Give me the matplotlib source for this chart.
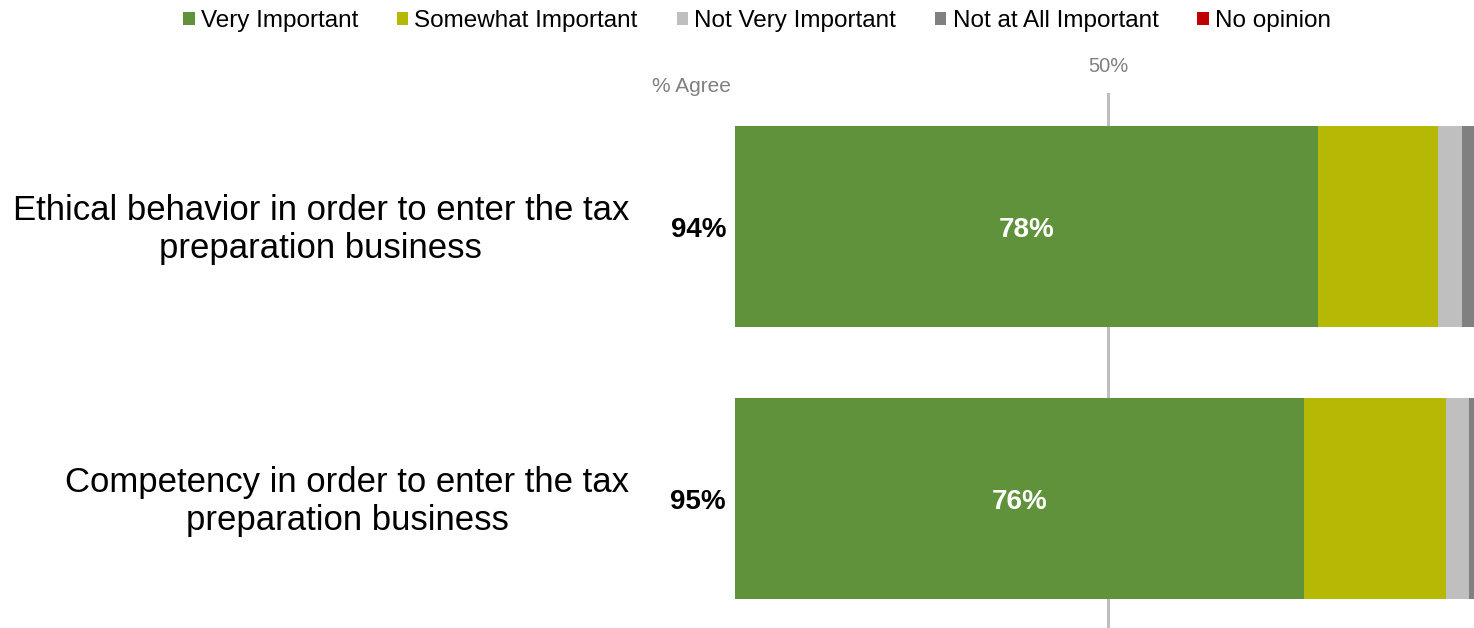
import matplotlib
matplotlib.use("Agg")
import matplotlib.pyplot as plt

plt.rcParams['font.family'] = ['Liberation Sans', 'DejaVu Sans']

# Survey items and response shares (%)
categories = [
    "Ethical behavior in order to enter the tax\npreparation business",
    "Competency in order to enter the tax\npreparation business",
]
series_names = ["Very Important", "Somewhat Important", "Not Very Important",
                "Not at All Important", "No opinion"]
very_important = [78.1, 76.3]
somewhat_important = [16.2, 19.0]
not_very_important = [3.1, 3.1]
not_at_all_important = [1.9, 1.0]
no_opinion = [0.7, 0.6]
colors = ["#60913B", "#B5B905", "#BFBFBF", "#808080", "#C00000"]

series = [very_important, somewhat_important, not_very_important,
          not_at_all_important, no_opinion]

W, H = 1474, 628
fig = plt.figure(figsize=(W / 100, H / 100), dpi=100)
ax = fig.add_axes([735 / W, 0, 746 / W, 535 / H])

ypos = list(range(len(categories)))
left = [0.0] * len(categories)
containers = []
for name, vals, col in zip(series_names, series, colors):
    bc = ax.barh(ypos, vals, left=left, height=0.74, color=col,
                 label=name, zorder=2)
    containers.append(bc)
    left = [l + v for l, v in zip(left, vals)]

# 50% reference line
ax.axvline(50, color="#BFBFBF", lw=2.2, zorder=1)
ax.annotate("50%", xy=(50, 1), xycoords=("data", "axes fraction"),
            xytext=(0, 27), textcoords="offset pixels",
            ha="center", va="center", fontsize=14.5, color="#808080")
ax.annotate("% Agree", xy=(0, 1), xycoords="axes fraction",
            xytext=(-4, 7), textcoords="offset pixels",
            ha="right", va="center", fontsize=15, color="#808080")

ax.set_xlim(0, 100)
ax.set_ylim(1.476, -0.491)
ax.axis("off")

for i, cat in enumerate(categories):
    ax.annotate(cat, xy=(0, i), xycoords=("axes fraction", "data"),
                xytext=(-106, -3), textcoords="offset pixels",
                ha="right", va="center", multialignment="center",
                fontsize=25, linespacing=1.16, color="black")
    agree = very_important[i] + somewhat_important[i]
    ax.annotate(f"{agree:.0f}%", xy=(0, i), xycoords=("axes fraction", "data"),
                xytext=(-9, -3), textcoords="offset pixels",
                ha="right", va="center", fontsize=20, fontweight="bold",
                color="black")
    ax.annotate(f"{very_important[i]:.0f}%", xy=(very_important[i] / 2, i),
                xycoords="data", xytext=(0, -3), textcoords="offset pixels",
                ha="center", va="center", fontsize=20, fontweight="bold",
                color="white", zorder=3)

fig.legend(handles=containers, labels=series_names, loc="center",
           bbox_to_anchor=(757 / W, 1 - 21 / H), ncol=5, frameon=False,
           fontsize=17.5, handlelength=0.47, handleheight=0.47,
           handletextpad=0.25, columnspacing=1.6, borderaxespad=0)

fig.savefig("out.png", dpi=100)
